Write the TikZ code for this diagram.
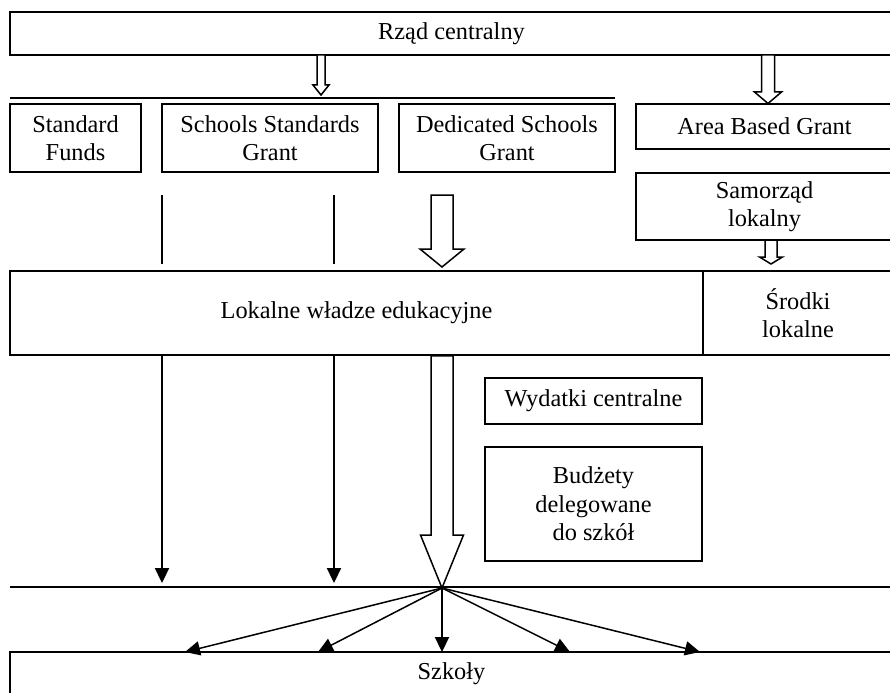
\documentclass[tikz,border=0pt]{standalone}
\usepackage{fontspec}
\setmainfont{Liberation Serif}
\usetikzlibrary{arrows.meta, calc, positioning}

% wide hollow arrow: from, tip, shaft half width, head half width, head length
\newcommand{\hollowarrow}[5]{%
  \draw[hollow] ($(#1)+(-#3,0)$) -- ($(#2)+(-#3,-#5)$) -- ($(#2)+(-#4,-#5)$)
    -- (#2) -- ($(#2)+(#4,-#5)$) -- ($(#2)+(#3,-#5)$) -- ($(#1)+(#3,0)$) -- cycle;}

\begin{document}
\begin{tikzpicture}[x=0.6pt, y=-0.6pt, line width=0.9pt,
    box/.style={rectangle, draw, align=center, inner sep=0pt, font=\fontsize{14.6}{17}\selectfont},
    boxsize/.style 2 args={minimum width=#1*0.6pt, minimum height=#2*0.6pt},
    hollow/.style={draw, fill=white, line join=miter},
    line/.style={draw, -{Triangle[length=9pt, width=8.5pt]}}
]
    \useasboundingbox (0,0) rectangle (890,693);

    % Central government
    \node [box, boxsize={883}{43}] (rzad) at (451.5,33.5) {Rząd centralny};

    % Grants
    \node [box, boxsize={131}{68}] (sf) at (75.5,138) {Standard\\Funds};
    \node [box, boxsize={216}{68}] (ssg) at (270,138) {Schools Standards\\Grant};
    \node [box, boxsize={216}{68}] (dsg) at (507,138) {Dedicated Schools\\Grant};
    \node [box, boxsize={257}{45}] (abg) at (764.5,126.5) {Area Based Grant};
    \node [box, boxsize={257}{67}] (sam) at (764.5,206.5) {Samorząd\\lokalny};

    % Local authority
    \node [box, boxsize={693}{84}] (lwe) at (356.5,313) {Lokalne władze edukacyjne};
    \node [box, boxsize={190}{84}] (srl) at (798,313) {Środki\\lokalne};

    % Spending
    \node [box, boxsize={217}{46}] (wyd) at (593.5,401) {Wydatki centralne};
    \node [box, boxsize={217}{114}] (bud) at (593.5,504) {Budżety\\delegowane\\do szkół};

    % Schools
    \node [box, boxsize={883}{43}] (szk) at (451.5,673.5) {Szkoły};

    % Rules
    \coordinate (r1a) at (10,98);
    \coordinate (r1b) at (615,98);
    \coordinate (r2a) at (10,587);
    \coordinate (r2b) at (893,587);
    \draw (r1a) -- (r1b);
    \draw (r2a) -- (r2b);

    % Hollow arrows
    \coordinate (h1a) at (321,55);   \coordinate (h1b) at (321,95);
    \coordinate (h2a) at (768,55);   \coordinate (h2b) at (768,103.5);
    \coordinate (h3a) at (442,195);  \coordinate (h3b) at (442,267);
    \coordinate (h4a) at (771,240);  \coordinate (h4b) at (771,264);
    \coordinate (hub) at (442,588);
    \hollowarrow{h1a}{h1b}{4}{8}{10}
    \hollowarrow{h2a}{h2b}{6.5}{13.5}{11.5}
    \hollowarrow{h3a}{h3b}{11}{22}{18}
    \hollowarrow{h4a}{h4b}{6}{11.5}{7}
    \hollowarrow{lwe.south -| hub}{hub}{11}{21.5}{53}

    % Thin flows
    \foreach \x [count=\i] in {162,334} {
        \coordinate (u\i) at (\x,195);
        \coordinate (v\i) at (\x,264);
        \coordinate (w\i) at (\x,583);
        \draw (u\i) -- (v\i);
        \path [line] (lwe.south -| w\i) -- (w\i);
    }

    % Fan out to schools
    \foreach \x [count=\i] in {185,318,442,570,700}
        \coordinate (s\i) at (\x,652);
    \foreach \i in {1,...,5}
        \path [line] (hub) -- (s\i);

\end{tikzpicture}
\end{document}
